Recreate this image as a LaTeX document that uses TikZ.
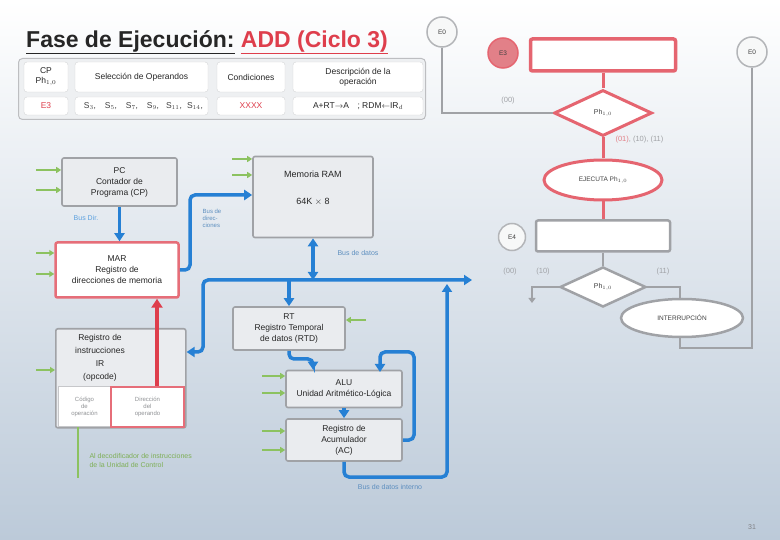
\documentclass[tikz,border=0pt]{standalone}
\usepackage{fontspec}
\setmainfont{Liberation Sans}
\usetikzlibrary{arrows.meta,shapes.geometric,calc}
\definecolor{rojo}{RGB}{222,62,76}
\definecolor{rosa}{RGB}{226,128,136}
\definecolor{azul}{RGB}{38,128,212}
\definecolor{verde}{RGB}{140,194,96}
\definecolor{gris}{RGB}{160,162,166}
\definecolor{grisfill}{RGB}{234,236,239}
\definecolor{fondo}{RGB}{188,202,217}
\begin{document}
\begin{tikzpicture}[x=1pt,y=-1pt,
  gbox/.style={draw=gris, line width=1.6pt, fill=grisfill, rounded corners=2pt, align=center, font=\fontsize{8.5}{11}\selectfont, text=black!85, inner sep=1pt},
  rbox/.style={draw=rojo!75, line width=2.5pt, fill=white, rounded corners=2pt, align=center, font=\fontsize{8.5}{11}\selectfont, text=black!85, inner sep=1pt},
  bus/.style={draw=azul, line width=3.5pt, rounded corners=5pt},
  btip/.style={-{Triangle[length=8pt,width=10pt]}},
  bbtip/.style={{Triangle[length=8pt,width=10pt]}-{Triangle[length=8pt,width=10pt]}},
  garrow/.style={draw=verde, line width=2.5pt, -{Triangle[length=5pt,width=6pt]}},
  fline/.style={draw=gris, line width=2.5pt},
  rline/.style={draw=rojo!80, line width=3pt},
  cell/.style={draw=gris!45, fill=white, rounded corners=3pt, inner sep=0pt, align=center, font=\fontsize{8.5}{10}\selectfont, text=black!85},
  blab/.style={font=\fontsize{7}{8}\selectfont, text=azul!55!gris, align=left},
  circ/.style={circle, draw=gris!80, line width=1.5pt, fill=white!92!gris, minimum size=30pt, inner sep=0pt, font=\fontsize{6.5}{7}\selectfont, text=black!75},
  flab/.style={font=\fontsize{7.5}{8}\selectfont, text=gris},
]
\useasboundingbox (0,0) rectangle (780,540);
\shade[top color=white, middle color=white!75!fondo, bottom color=fondo] (0,0) rectangle (780,540);

% ---------- title ----------
\node[anchor=west, font=\fontsize{23}{26}\bfseries\selectfont, text=black!85, inner sep=0pt] (title) at (26,42)
  {\underline{Fase de Ejecución:} \textcolor{rojo}{\underline{ADD (Ciclo 3)}}};

% ---------- table ----------
\node[draw=gris!70, line width=1pt, fill=grisfill!80, rounded corners=4pt, minimum width=407pt, minimum height=61pt, anchor=north west] (tab) at (18,58) {};
\node[cell, minimum width=44pt, minimum height=30pt] (c11) at (46,77) {CP\\Ph$_{1,0}$};
\node[cell, minimum width=133pt, minimum height=30pt] (c12) at (141.5,77) {Selección de Operandos};
\node[cell, minimum width=68pt, minimum height=30pt] (c13) at (251,77) {Condiciones};
\node[cell, minimum width=130pt, minimum height=30pt] (c14) at (358,77) {Descripción de la\\operación};
\node[cell, minimum width=44pt, minimum height=18pt, text=rojo] (c21) at (46,106) {E3};
\node[cell, minimum width=133pt, minimum height=18pt] (c22) at (141.5,106) {};
\foreach \xx/\s in {90/3,111/5,132/7,153/9,174/11,195/14}
  \node[font=\fontsize{8.5}{10}\selectfont, text=black!75, inner sep=0pt] (s\s) at (\xx,106) {S$_{\s}$,};
\node[cell, minimum width=68pt, minimum height=18pt, text=rojo] (c23) at (251,106) {XXXX};
\node[cell, minimum width=130pt, minimum height=18pt] (c24) at (358,106) {A+RT$\rightarrow$A\quad ; RDM$\leftarrow$IR$_{d}$};

% ---------- left datapath ----------
\node[gbox, minimum width=115pt, minimum height=48pt] (pc) at (119.5,182) {PC\\Contador de\\Programa (CP)};
\node[rbox, minimum width=123pt, minimum height=55pt] (mar) at (117,270) {MAR\\Registro de\\direcciones de memoria};
\node[gbox, minimum width=120pt, minimum height=81pt] (mem) at (313,197) {};
\node[align=center, font=\fontsize{9}{27}\selectfont, text=black!85, inner sep=0pt] (memt) at (313,188) {Memoria RAM\\64K $\times$ 8};

\node[gbox, minimum width=130pt, minimum height=99pt, anchor=north west] (ir) at (55,328) {};
\node[align=center, font=\fontsize{8.5}{13}\selectfont, text=black!85, inner sep=0pt] (irt) at (100,358) {Registro de\\instrucciones\\IR\\(opcode)};
\node[draw=gris!60, line width=1pt, fill=white, anchor=north west, minimum width=52pt, minimum height=40pt, align=center, font=\fontsize{6}{7}\selectfont, text=gris!90!black] (irl) at (58,386) {Código\\de\\operación};
\node[draw=rojo!75, line width=2pt, fill=white, anchor=north west, minimum width=73pt, minimum height=40pt, align=center, font=\fontsize{6}{7}\selectfont, text=gris!90!black] (irr) at (110,386) {Dirección\\del\\operando};

\node[gbox, minimum width=112pt, minimum height=43pt] (rt) at (289,328.5) {RT\\Registro Temporal\\de datos (RTD)};
\node[gbox, minimum width=116pt, minimum height=37pt] (alu) at (344,389) {ALU\\Unidad Aritmético-Lógica};
\node[gbox, minimum width=116pt, minimum height=42pt] (acc) at (344,440) {Registro de\\Acumulador\\(AC)};

% green control signals
\foreach \n/\yy/\bx in {g1/170/pc,g2/190/pc,g3/253/mar,g4/274/mar,g7/370/ir}
  {\coordinate (\n) at (36,\yy); \draw[garrow] (\n) -- (\n -| \bx.west);}
\foreach \n/\yy in {g5/159,g6/175}
  {\coordinate (\n) at (232,\yy); \draw[garrow] (\n) -- (\n -| mem.west);}
\foreach \n/\yy/\bx in {g8/376/alu,g9/393/alu,g10/431/acc,g11/450/acc}
  {\coordinate (\n) at (262,\yy); \draw[garrow] (\n) -- (\n -| \bx.west);}
\coordinate (g12) at (366,320); \draw[garrow] (g12) -- (g12 -| rt.east);

% green line to decoder
\coordinate (gd) at (78,478);
\draw[draw=verde, line width=2.5pt] (irl.south -| gd) -- (gd);
\node[anchor=west, align=left, font=\fontsize{7}{9}\selectfont, text=verde!90!black] (gdl) at (86,460) {Al decodificador de instrucciones\\de la Unidad de Control};

% blue buses
\draw[bus, btip] (pc.south) -- (pc.south |- mar.north);
\node[blab, text=azul!75] (lab1) at (86,218) {Bus Dir.};
\coordinate (m1) at (190,195);
\draw[bus, btip] (mar.east) -| (m1) -- (m1 -| mem.west);
\node[blab, font=\fontsize{6}{7}\selectfont] (lab2) at (212,218) {Bus de\\direc-\\ciones};

\coordinate (busL) at (203,280);
\coordinate (busR) at (472,280);
\coordinate (irin) at (185,352);
\draw[bus, bbtip] (ir.east |- irin) -| (busL) -- (busR);
\draw[bus, bbtip] (mem.south) -- (mem.south |- busL);
\node[blab] (lab3) at (358,253) {Bus de datos};
\draw[bus, btip] (rt.north |- busL) -- (rt.north);

\coordinate (a1) at (313,359);
\draw[bus, btip] (rt.south) |- (a1) -- (a1 |- alu.north);
\draw[bus, btip] (alu.south) -- (acc.north);
\coordinate (lp) at (414,352);
\coordinate (a2) at (380,372);
\draw[bus, btip] (acc.east) -| (lp) -| (a2);
\coordinate (lb) at (447,477);
\coordinate (bt) at (447,284);
\draw[bus, btip] (acc.south) |- (lb) -- (bt);
\node[blab] (lab4) at (390,487) {Bus de datos interno};

% red arrow IR -> MAR
\coordinate (rx) at (157,0);
\draw[draw=rojo, line width=3.5pt, -{Triangle[length=9pt,width=11pt]}] (irr.north -| rx) -- (mar.south -| rx);

% ---------- flowchart ----------
\node[circ] (c0) at (442,32) {E0};
\node[circ, draw=rojo!80, fill=rosa, text=black!75] (c3) at (503,53) {E3};
\node[draw=rojo!80, line width=3.5pt, fill=white, rounded corners=2pt, minimum width=145pt, minimum height=32pt] (rr) at (603,55) {};
\node[diamond, draw=rojo!80, line width=3pt, fill=white, minimum width=98pt, minimum height=46pt, inner sep=0pt, font=\fontsize{7}{8}\selectfont, text=black!75] (d1) at (603,113) {Ph$_{1,0}$};
\node[ellipse, draw=rojo!80, line width=3pt, fill=white, minimum width=118pt, minimum height=40pt, inner sep=0pt, font=\fontsize{6.5}{8}\selectfont, text=black!75] (e1) at (603,180) {EJECUTA Ph$_{1,0}$};
\draw[rline] (rr.south) -- (d1.north);
\draw[rline] (d1.south) -- (e1.north);
\draw[fline] (c0.south) |- (d1.west);
\node[flab] (l00) at (508,101) {(00)};
\node[flab, anchor=west] (l01) at (612,140) {\textcolor{rosa}{(01)}, (10), (11)};

\node[draw=gris, line width=2.5pt, fill=white, rounded corners=2pt, minimum width=134pt, minimum height=31pt] (gr) at (603,236) {};
\node[circ, minimum size=27pt] (c4) at (512,237) {E4};
\draw[rline] (e1.south) -- (gr.north);
\node[diamond, draw=gris, line width=2.5pt, fill=white, minimum width=86pt, minimum height=40pt, inner sep=0pt, font=\fontsize{7}{8}\selectfont, text=black!75] (d2) at (603,287) {Ph$_{1,0}$};
\draw[fline] (gr.south) -- (d2.north);
\coordinate (dl) at (532,303);
\draw[fline, -{Triangle[length=5pt,width=7pt]}] (d2.west) -| (dl);
\node[ellipse, draw=gris, line width=2.5pt, fill=white, minimum width=122pt, minimum height=38pt, inner sep=0pt, font=\fontsize{6.5}{8}\selectfont, text=black!75] (e2) at (682,318) {INTERRUPCIÓN};
\draw[fline] (d2.east) -| (e2.north -| 680,0);
\node[flab] (l00b) at (510,272) {(00)};
\node[flab] (l10) at (543,272) {(10)};
\node[flab] (l11) at (663,272) {(11)};
\node[circ] (c5) at (752,52) {E0};
\coordinate (lo) at (752,348);
\draw[fline] (e2.south -| 680,0) |- (lo) -- (c5.south);

\node[font=\fontsize{7}{8}\selectfont, text=gris!80!black] (pg) at (752,527) {31};
\end{tikzpicture}
\end{document}
